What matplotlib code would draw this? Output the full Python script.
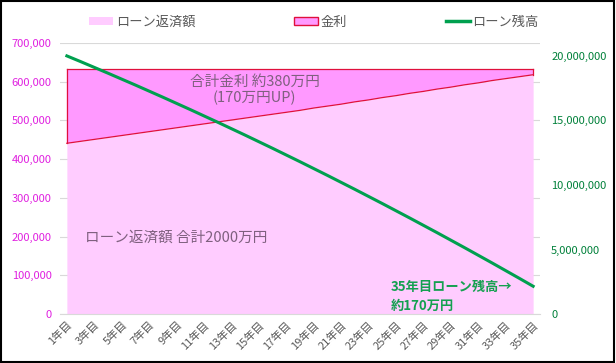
import matplotlib.pyplot as plt
import numpy as np
from matplotlib.lines import Line2D
from matplotlib.patches import Patch, Rectangle
from matplotlib.ticker import FuncFormatter

plt.rcParams["font.family"] = ["Noto Sans CJK JP", "DejaVu Sans"]

# 年ごとのデータ
years = [f"{n}年目" for n in range(1, 36)]
# 元金返済額 (円)
principal = [441000, 446000, 451000, 456000, 461000, 466000, 471000, 476000,
             481000, 486000, 491000, 496000, 501000, 506000, 511000, 516000,
             521000, 526000, 532000, 537000, 542000, 548000, 553000, 559000,
             564000, 570000, 575000, 581000, 586000, 592000, 597000, 603000,
             608000, 613000, 618000]
# 金利 (円)
interest = [191000, 186000, 181000, 176000, 171000, 166000, 161000, 156000,
            151000, 146000, 141000, 136000, 131000, 126000, 121000, 116000,
            111000, 106000, 100000, 95000, 90000, 84000, 79000, 73000,
            68000, 62000, 57000, 51000, 46000, 40000, 35000, 29000,
            24000, 19000, 14000]
# ローン残高 (円)
balance = [20000000, 19560000, 19110000, 18660000, 18200000, 17740000, 17270000,
           16800000, 16320000, 15840000, 15350000, 14860000, 14360000, 13860000,
           13350000, 12840000, 12320000, 11800000, 11270000, 10740000, 10200000,
           9660000, 9110000, 8560000, 8000000, 7440000, 6870000, 6300000,
           5720000, 5140000, 4550000, 3960000, 3360000, 2760000, 2150000]

PINK = "#FFCCFF"
MAGENTA = "#FF99FF"
GREEN = "#00A04F"
TEXT_GRAY = "#7F607F"

x = np.arange(1, len(years) + 1)
fig = plt.figure(figsize=(6.16, 3.63), dpi=100)
ax = fig.add_axes([60 / 616, 49 / 363, 480 / 616, 271 / 363])

total = np.array(principal) + np.array(interest)
ax.fill_between(x, 0, principal, color=PINK, linewidth=0, zorder=1)
ax.fill_between(x, principal, total, facecolor=MAGENTA, edgecolor="none", zorder=1)
ax.plot(x, principal, color="#E0103C", linewidth=0.9, zorder=2)
ax.plot(x, total, color="#E0103C", linewidth=0.9, zorder=2)
ax.plot([x[0], x[0]], [principal[0], total[0]], color="#E0103C", linewidth=0.9, zorder=2)
ax.plot([x[-1], x[-1]], [principal[-1], total[-1]], color="#E0103C", linewidth=0.9, zorder=2)

ax.set_xlim(0.5, 35.5)
ax.set_ylim(0, 700000)
ax.set_yticks(np.arange(0, 700001, 100000))
ax.yaxis.set_major_formatter(FuncFormatter(lambda v, p: f"{int(v):,}"))
ax.tick_params(axis="y", colors="#E020E0", labelsize=8, length=0, pad=6)
ax.grid(axis="y", color="#D9D9D9", linewidth=0.8, zorder=0)
ax.set_axisbelow(True)
ax.set_xticks(x[::2])
ax.set_xticklabels(years[::2], rotation=45, ha="right", rotation_mode="anchor",
                   fontsize=8, color="#595959")
ax.tick_params(axis="x", length=0, pad=4)
for s in ["top", "right", "left"]:
    ax.spines[s].set_visible(False)
ax.spines["bottom"].set_color("#D9D9D9")

ax2 = ax.twinx()
ax2.plot(x, balance, color=GREEN, linewidth=2.2, zorder=3)
ax2.set_ylim(0, 21000000)
ax2.set_yticks(np.arange(0, 20000001, 5000000))
ax2.yaxis.set_major_formatter(FuncFormatter(lambda v, p: f"{int(v):,}"))
ax2.tick_params(axis="y", colors="#00803A", labelsize=8, length=0, pad=8)
for s in ["top", "right", "left", "bottom"]:
    ax2.spines[s].set_visible(False)

ax.text(14.7, 578000, "合計金利 約380万円\n(170万円UP)", ha="center", va="center",
        fontsize=10.5, color=TEXT_GRAY, linespacing=1.2, zorder=5)
ax.text(2.3, 196000, "ローン返済額 合計2000万円", ha="left", va="center",
        fontsize=10.5, color=TEXT_GRAY, zorder=5)
ax.text(24.6, 45000, "35年目ローン残高→\n約170万円", ha="left", va="center",
        fontsize=9.5, color="#14A050", fontweight="bold", linespacing=1.4, zorder=5)

handles = [Patch(facecolor=PINK, edgecolor="none"),
           Patch(facecolor=MAGENTA, edgecolor="#E0103C"),
           Line2D([0], [0], color=GREEN, linewidth=2.5)]
fig.legend(handles, ["ローン返済額", "金利", "ローン残高"], loc="upper center",
           bbox_to_anchor=(0.51, 0.99), ncol=3, frameon=False, fontsize=9.5,
           labelcolor="#595959", columnspacing=7.5, handlelength=1.8,
           handletextpad=0.2, handleheight=0.6)

fig.add_artist(Rectangle((0.002, 0.004), 0.994, 0.993, transform=fig.transFigure,
                         fill=False, edgecolor="black", linewidth=1.5))

fig.savefig("out.png", dpi=100)
